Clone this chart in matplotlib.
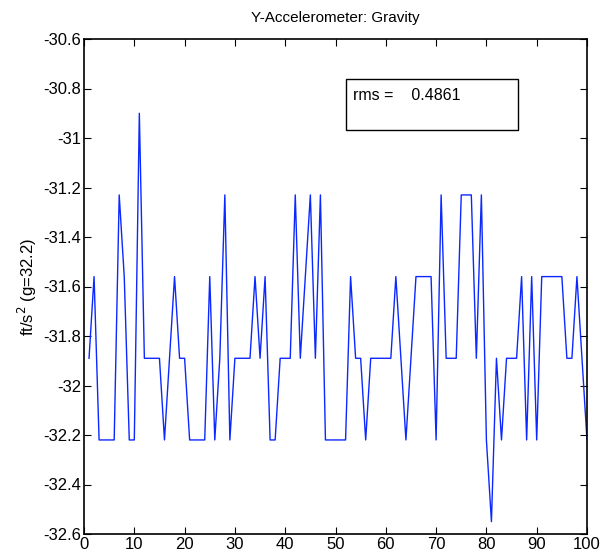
import numpy as np
import matplotlib
matplotlib.use('Agg')
import matplotlib.pyplot as plt
from matplotlib.patches import Rectangle

#### data ####
# sample index and y-accelerometer reading (ft/s^2)
sample = list(range(1, 101))
accel_y = [
    -31.89, -31.56, -32.22, -32.22, -32.22, -32.22, -31.23, -31.56, -32.22, -32.22,
    -30.90, -31.89, -31.89, -31.89, -31.89, -32.22, -31.89, -31.56, -31.89, -31.89,
    -32.22, -32.22, -32.22, -32.22, -31.56, -32.22, -31.89, -31.23, -32.22, -31.89,
    -31.89, -31.89, -31.89, -31.56, -31.89, -31.56, -32.22, -32.22, -31.89, -31.89,
    -31.89, -31.23, -31.89, -31.56, -31.23, -31.89, -31.23, -32.22, -32.22, -32.22,
    -32.22, -32.22, -31.56, -31.89, -31.89, -32.22, -31.89, -31.89, -31.89, -31.89,
    -31.89, -31.56, -31.89, -32.22, -31.89, -31.56, -31.56, -31.56, -31.56, -32.22,
    -31.23, -31.89, -31.89, -31.89, -31.23, -31.23, -31.23, -31.89, -31.23, -32.22,
    -32.55, -31.89, -32.22, -31.89, -31.89, -31.89, -31.56, -32.22, -31.56, -32.22,
    -31.56, -31.56, -31.56, -31.56, -31.56, -31.89, -31.89, -31.56, -31.89, -32.22,
]
rms_text = 'rms =    0.4861'

x_ticks = np.arange(0, 101, 10)
y_ticks = np.round(np.arange(-32.6, -30.59, 0.2), 1)

plt.rcParams['font.family'] = ['Liberation Sans', 'DejaVu Sans']

#### plot ####
fig = plt.figure(figsize=(6.14, 5.58), dpi=100)
ax = fig.add_axes([84 / 614, 24 / 558, 503 / 614, 495 / 558])

ax.plot(sample, accel_y, color='#0a28ff', linewidth=1.0)

ax.set_xlim(0, 100)
ax.set_ylim(-32.6, -30.6)
ax.set_xticks(x_ticks)
ax.set_yticks(y_ticks)
ax.set_xticklabels([str(t) for t in x_ticks])
ax.set_yticklabels(['%g' % t for t in y_ticks])
ax.tick_params(direction='in', top=True, right=True, length=5, width=0.8,
               labelsize=12, pad=2)
for s in ax.spines.values():
    s.set_linewidth(1.2)

ax.set_title('Y-Accelerometer: Gravity', fontsize=11, pad=12)
ax.set_ylabel('ft/s$^2$ (g=32.2)', fontsize=12, labelpad=3)

# rms annotation box
ax.add_patch(Rectangle((262 / 503, 404 / 495), 172 / 503, 51 / 495,
                       transform=ax.transAxes, fill=False,
                       edgecolor='black', linewidth=1.0))
ax.text(269 / 503, 434 / 495, rms_text, transform=ax.transAxes,
        fontsize=11.5, va='baseline', ha='left')

plt.savefig('out.png', dpi=100)
